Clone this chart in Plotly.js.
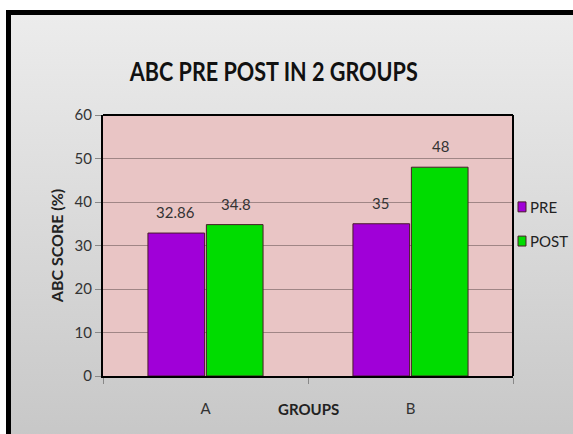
<!DOCTYPE html>
<html>
<head>
<meta charset="utf-8">
<script src="https://cdn.plot.ly/plotly-3.0.1.min.js"></script>
<style>
  html, body { margin:0; padding:0; }
  body { width:573px; height:434px; overflow:hidden; position:relative; background:#fff; }
  #frame { position:absolute; left:6px; top:10px; width:600px; height:460px;
           border-left:5px solid #000; border-top:5px solid #000;
           background:linear-gradient(to bottom, #ececec 0%, #dcdcdc 40%, #c4c4c4 100%); }
  #chart { position:absolute; left:0; top:0; width:573px; height:434px; }
  .narrow { transform-box: fill-box; transform-origin: center; transform: scaleX(0.8); }
</style>
</head>
<body>
<div id="frame"></div>
<div id="chart"></div>
<script>
const categories = ['A', 'B'];
const preValues = [32.86, 35];
const postValues = [34.8, 48];
const seriesNames = ['PRE', 'POST'];
const preLabels = ['32.86', '35'];
const postLabels = ['34.8', '48'];
const seriesColors = ['#a000d8', '#00dc00'];

const font = "Lato, 'Open Sans', Arial, sans-serif";

const traces = [
  { type:'bar', name:seriesNames[0], x:categories, y:preValues, showlegend:false,
    marker:{color:seriesColors[0], line:{color:'#4a1a2a', width:1}} },
  { type:'bar', name:seriesNames[1], x:categories, y:postValues, showlegend:false,
    marker:{color:seriesColors[1], line:{color:'#4a1a2a', width:1}} }
];

// data labels placed above each bar (offset by half a bar within its group)
const annots = [];
const half = 30; // pixel offset of each bar centre from the category centre
categories.forEach((c, i) => {
  annots.push({x:c, y:preValues[i], text:preLabels[i], xref:'x', yref:'y',
    xshift:-half, yshift:10, yanchor:'bottom', showarrow:false,
    font:{family:font, size:15, color:'#333333'}});
  annots.push({x:c, y:postValues[i], text:postLabels[i], xref:'x', yref:'y',
    xshift:half, yshift:10, yanchor:'bottom', showarrow:false,
    font:{family:font, size:15, color:'#333333'}});
});

// compact legend (small square + name) to the right of the plot area
const legendY = [0.648, 0.517];
const shapes = [
  {type:'line', xref:'paper', yref:'paper', x0:0, x1:1, y0:1, y1:1, line:{color:'#000', width:2}},
  {type:'line', xref:'paper', yref:'paper', x0:1, x1:1, y0:0, y1:1, line:{color:'#000', width:2}}
];
seriesNames.forEach((n, i) => {
  shapes.push({type:'rect', xref:'paper', yref:'paper', x0:1.0122, x1:1.0317,
    y0:legendY[i]-0.019, y1:legendY[i]+0.019,
    fillcolor:seriesColors[i], line:{color:'#4a1a2a', width:1}});
  annots.push({text:n, xref:'paper', yref:'paper', x:1.037, y:legendY[i],
    xanchor:'left', yanchor:'middle', showarrow:false,
    font:{family:font, size:15, color:'#222222'}});
});
annots.push({text:'<b>GROUPS</b>', xref:'paper', yref:'paper', x:0.5, y:-0.125, yanchor:'middle',
  showarrow:false, font:{family:font, size:15, color:'#222222'}});

const layout = {
  width:573, height:434,
  margin:{l:103, r:60, t:115, b:58, autoexpand:false},
  paper_bgcolor:'rgba(0,0,0,0)',
  plot_bgcolor:'#e9c5c5',
  barmode:'group', bargap:0.43, bargroupgap:0.03,
  font:{family:font, color:'#333333'},
  title:{text:'<b>ABC PRE POST IN 2 GROUPS</b>', x:0.478, xref:'container', xanchor:'center',
         y:0.834, yref:'container', yanchor:'middle',
         font:{family:font, size:27, color:'#111111'}},
  showlegend:false,
  xaxis:{type:'category', showgrid:false, showline:true, linecolor:'#000', linewidth:2,
         ticks:'outside', tickson:'boundaries', ticklen:6, tickcolor:'#888888',
         ticklabelstandoff:18,
         tickfont:{family:font, size:15, color:'#333333'}, mirror:false},
  yaxis:{range:[0,60], dtick:10, showgrid:true, gridcolor:'#a08686', gridwidth:1,
         showline:true, linecolor:'#000', linewidth:2, mirror:false,
         ticks:'outside', ticklen:6, tickcolor:'#888888', zeroline:false,
         tickfont:{family:font, size:15, color:'#333333'},
         title:{text:'<b>ABC SCORE (%)</b>', standoff:7,
                font:{family:font, size:16, color:'#222222'}}},
  shapes:shapes,
  annotations:annots
};

Plotly.newPlot('chart', traces, layout, {displayModeBar:false, staticPlot:true}).then(gd => {
  const t = gd.querySelector('.gtitle');
  if (t) t.classList.add('narrow');
});
</script>
</body>
</html>
